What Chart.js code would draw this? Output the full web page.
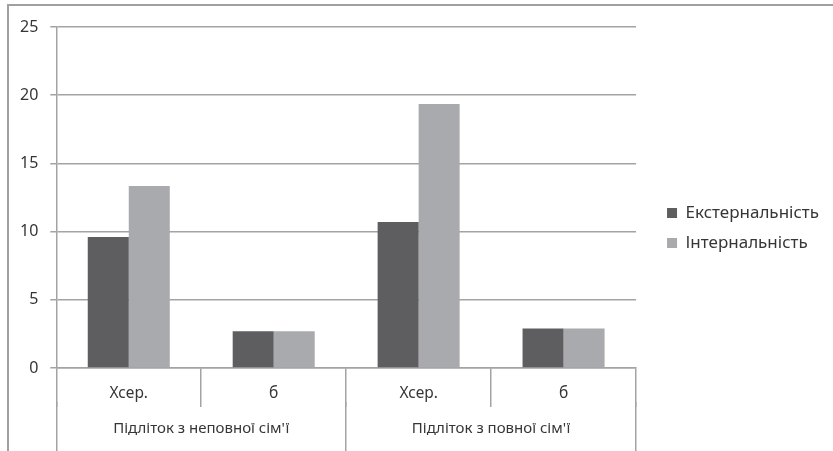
<!DOCTYPE html>
<html>
<head>
<meta charset="utf-8">
<script src="https://cdn.jsdelivr.net/npm/chart.js@4.4.1/dist/chart.umd.min.js"></script>
<style>
  html, body { margin: 0; padding: 0; background: #fff; }
  #wrap { position: relative; width: 833px; height: 451px; }
  #frame { position: absolute; left: 7px; top: 4px; right: -2px; bottom: -2px;
           border-left: 2px solid #a0a0a0; border-top: 2px solid #a0a0a0; }
  canvas { position: absolute; left: 0; top: 0; }
</style>
</head>
<body>
<div id="wrap">
  <div id="frame"></div>
  <canvas id="chart" width="833" height="451"></canvas>
</div>
<script>
// Показники локусу контролю підлітків
const subLabels = ["Хсер.", "б", "Хсер.", "б"];
const groupLabels = ["Підліток з неповної сім'ї", "Підліток з повної сім'ї"];
const seriesNames = ["Екстернальність", "Інтернальність"];
const externalValues = [9.6, 2.7, 10.7, 2.9];
const internalValues = [13.35, 2.7, 19.35, 2.9];
const yTicks = [0, 5, 10, 15, 20, 25];

const gridColor = "#a3a3a3";
const textColor = "#363636";
const fontFamily = "'Noto Sans', 'DejaVu Sans', sans-serif";

Chart.defaults.font.family = fontFamily;
Chart.defaults.color = textColor;

new Chart(document.getElementById("chart").getContext("2d"), {
  type: "bar",
  data: {
    labels: subLabels,
    datasets: [
      { label: seriesNames[0], data: externalValues, backgroundColor: "#5e5e60" },
      { label: seriesNames[1], data: internalValues, backgroundColor: "#a9aaad" }
    ]
  },
  options: {
    responsive: false,
    animation: false,
    layout: { padding: { left: 8, top: 27, right: 4, bottom: 0 } },
    datasets: { bar: { categoryPercentage: 0.566, barPercentage: 1, borderWidth: 0 } },
    plugins: {
      tooltip: { enabled: false },
      legend: {
        position: "right",
        align: "start",
        maxWidth: 400,
        // порожній заголовок лише опускає пункти легенди до середини
        title: { display: true, text: " ", font: { size: 10 }, padding: { top: 152.5, bottom: 0 } },
        labels: { boxWidth: 10, boxHeight: 10, padding: 13, font: { size: 17 }, color: textColor }
      }
    },
    scales: {
      y: {
        min: 0,
        max: 25,
        afterBuildTicks: s => { s.ticks = yTicks.map(v => ({ value: v })); },
        ticks: { padding: 12, font: { size: 16 }, color: textColor },
        grid: { color: gridColor, lineWidth: 1.5, tickLength: 6 },
        border: { color: gridColor, width: 1.5 }
      },
      // порожня вісь: відступ між областю графіка і легендою
      gap: {
        position: "right",
        min: 0,
        max: 1,
        grid: { display: false },
        ticks: { display: false },
        border: { display: false },
        afterFit: s => { s.width = 18; }
      },
      x: {
        offset: true,
        weight: 0,
        grid: { offset: true, drawOnChartArea: false, color: gridColor, lineWidth: 1.5, tickLength: 39 },
        border: { color: gridColor, width: 1.5 },
        ticks: { padding: -23, font: { size: 15.5 }, color: textColor, maxRotation: 0 },
        afterFit: s => { s.height = 34; }
      },
      x2: {
        type: "category",
        position: "bottom",
        labels: groupLabels,
        offset: true,
        weight: 1,
        grid: { offset: true, drawOnChartArea: false, color: gridColor, lineWidth: 1.5, tickLength: 49 },
        border: { display: false },
        ticks: { padding: -31, font: { size: 15 }, color: textColor, maxRotation: 0 },
        afterFit: s => { s.height = 49; }
      }
    }
  }
});
</script>
</body>
</html>
